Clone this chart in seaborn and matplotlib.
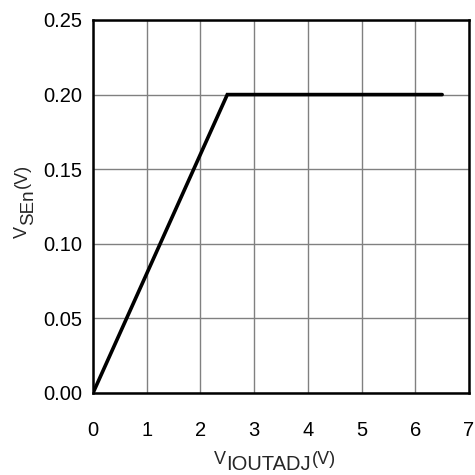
import matplotlib
matplotlib.use("Agg")
import matplotlib.pyplot as plt
import seaborn as sns
import pandas as pd

sns.set_theme(style="white")
plt.rcParams['font.family'] = ['Liberation Sans', 'DejaVu Sans']

# transfer curve
v_ioutadj = [0.0, 2.5, 6.5]
v_sen = [0.0, 0.2, 0.2]

x_ticks = [0, 1, 2, 3, 4, 5, 6, 7]
y_ticks = [0.00, 0.05, 0.10, 0.15, 0.20, 0.25]

df = pd.DataFrame({'x': v_ioutadj, 'y': v_sen})

W = H = 475
fig = plt.figure(figsize=(W / 100, H / 100), dpi=100)
# axes box: left 93, right 469, top 20, bottom 393 (pixels)
ax = fig.add_axes([93 / W, (H - 393) / H, 376 / W, 373 / H])

sns.lineplot(data=df, x='x', y='y', color='black', linewidth=2.6, ax=ax,
             solid_joinstyle='miter', zorder=3)

ax.set_xlim(0, 7)
ax.set_ylim(0, 0.25)
ax.set_xticks(x_ticks)
ax.set_yticks(y_ticks)
ax.set_xticklabels([str(t) for t in x_ticks])
ax.set_yticklabels([f"{t:.2f}" for t in y_ticks])
ax.set_xlabel('')
ax.set_ylabel('')
ax.grid(True, color='#808080', linewidth=1.0)
ax.tick_params(axis='both', length=0, labelsize=14.5, colors='black')
ax.tick_params(axis='x', pad=20)
ax.tick_params(axis='y', pad=8)
for s in ax.spines.values():
    s.set_color('black')
    s.set_linewidth(1.8)
    s.set_visible(True)


def px(x, y):
    return x / W, (H - y) / H


# x label: V with a large, lowered IOUTADJ subscript, then (V)
fig.text(*px(226, 464), 'V', fontsize=13, ha='right', va='baseline')
sub_x = fig.text(*px(226, 470), 'IOUTADJ', fontsize=14.5, ha='left', va='baseline')
fig.canvas.draw()
r = fig.canvas.get_renderer()
x_end = sub_x.get_window_extent(r).x1
fig.text(x_end / W + 1 / W, (H - 464) / H, '(V)', fontsize=13, ha='left', va='baseline')

# y label, rotated: V, SEn subscript, (V)
fig.text(*px(27, 226), 'V', fontsize=13, rotation=90, rotation_mode='anchor',
         ha='right', va='baseline')
sub_y = fig.text(*px(33, 225), 'SEn', fontsize=13.5, rotation=90, rotation_mode='anchor',
                 ha='left', va='baseline')
fig.canvas.draw()
y_end = sub_y.get_window_extent(r).y1
fig.text(27 / W, y_end / H + 1 / H, '(V)', fontsize=13, rotation=90, rotation_mode='anchor',
         ha='left', va='baseline')

fig.savefig('out.png', dpi=100)
